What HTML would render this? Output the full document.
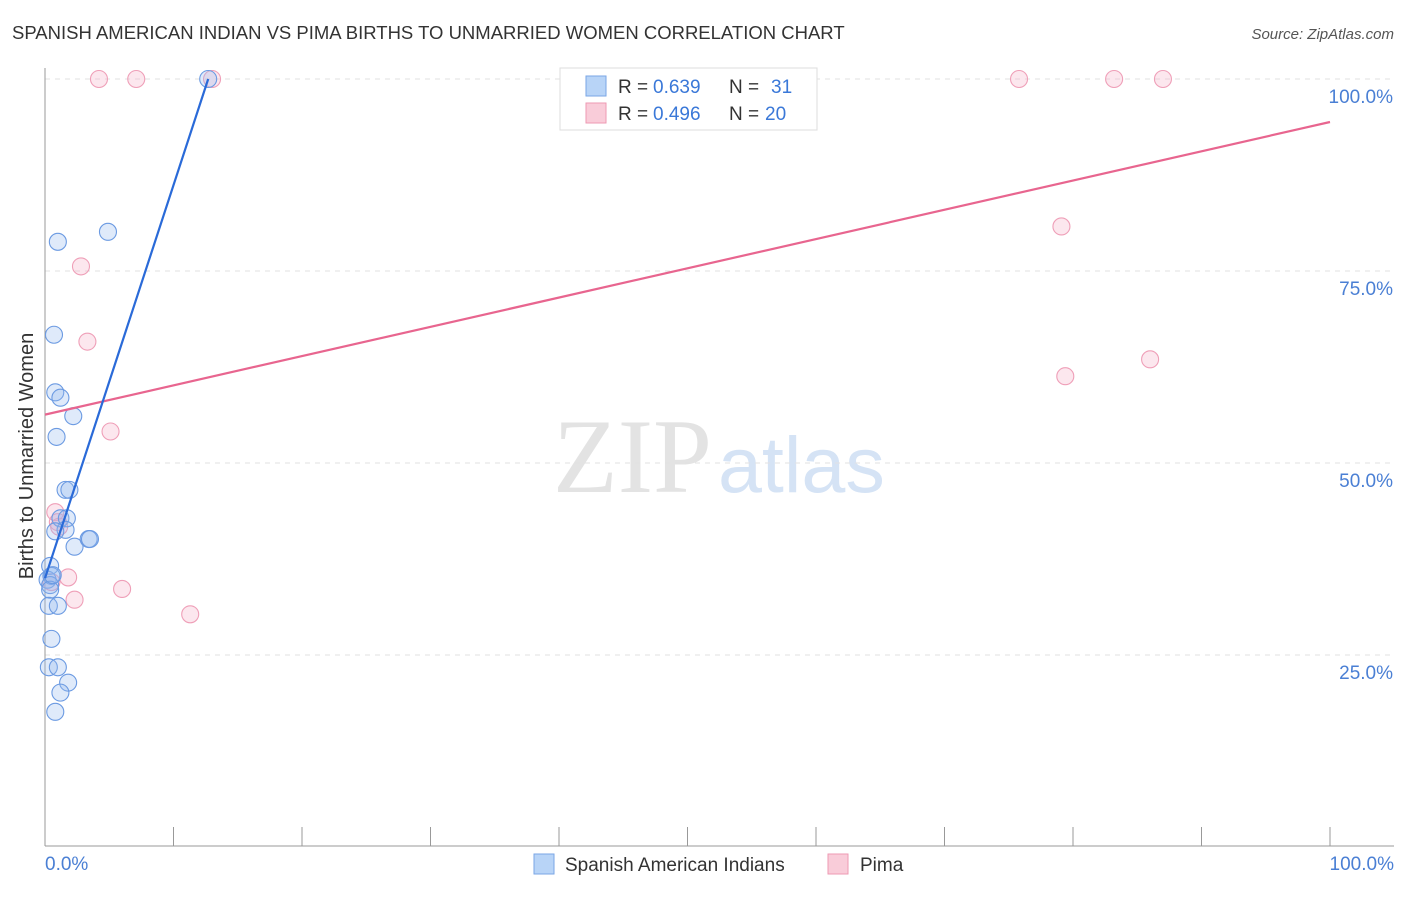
<!DOCTYPE html>
<html><head><meta charset="utf-8"><style>
body{margin:0;background:#fff;font-family:"Liberation Sans",sans-serif;}
</style></head><body>
<svg width="1406" height="892" xmlns="http://www.w3.org/2000/svg">
<text x="12" y="39" font-size="18.5" fill="#333">SPANISH AMERICAN INDIAN VS PIMA BIRTHS TO UNMARRIED WOMEN CORRELATION CHART</text>
<text x="1394" y="39" font-size="15" fill="#555" font-style="italic" text-anchor="end">Source: ZipAtlas.com</text>
<text x="712" y="492" font-size="106" fill="#e3e3e3" font-family="Liberation Serif,serif" text-anchor="end">ZIP</text>
<text x="718" y="492" font-size="79" fill="#d5e3f5">atlas</text>
<g id="grid"></g>
<line x1="45" y1="68" x2="45" y2="846" stroke="#999"/>
<line x1="45" y1="846" x2="1394" y2="846" stroke="#999"/>
<text x="33" y="456" font-size="20" fill="#333" text-anchor="middle" transform="rotate(-90 33 456)">Births to Unmarried Women</text>
<text x="45" y="870" font-size="19" fill="#4a7fd4">0.0%</text>
<text x="1394" y="870" font-size="19" fill="#4a7fd4" text-anchor="end">100.0%</text>
<g id="marks"></g>
<g>
<rect x="560" y="68" width="257" height="62" fill="#fff" stroke="#ddd"/>
<rect x="586" y="76" width="20" height="20" fill="#b8d4f7" stroke="#7aa6e6"/>
<rect x="586" y="103" width="20" height="20" fill="#f9ccd9" stroke="#ee9ab3"/>
<text x="618" y="93" font-size="19" fill="#333">R =</text>
<text x="653" y="93" font-size="19" fill="#3a78d8">0.639</text>
<text x="729" y="93" font-size="19" fill="#333">N =</text>
<text x="771" y="93" font-size="19" fill="#3a78d8">31</text>
<text x="618" y="120" font-size="19" fill="#333">R =</text>
<text x="653" y="120" font-size="19" fill="#3a78d8">0.496</text>
<text x="729" y="120" font-size="19" fill="#333">N =</text>
<text x="765" y="120" font-size="19" fill="#3a78d8">20</text>
</g>
<g>
<rect x="534" y="854" width="20" height="20" fill="#b8d4f7" stroke="#7aa6e6"/>
<text x="565" y="871" font-size="19" fill="#333">Spanish American Indians</text>
<rect x="828" y="854" width="20" height="20" fill="#f9ccd9" stroke="#ee9ab3"/>
<text x="860" y="871" font-size="19" fill="#333">Pima</text>
</g>
</svg>
<script>
const yTicks=[25,50,75,100];
const yTickLabels=["25.0%","50.0%","75.0%","100.0%"];
const blueX=[12.7,4.9,1.0,0.7,0.8,1.2,2.2,0.9,1.6,1.9,1.2,1.7,1.6,0.8,2.3,3.4,3.5,0.4,0.2,0.5,0.4,0.4,0.3,1.0,0.5,0.3,1.0,1.8,1.2,0.8,0.6];
const blueY=[100,80.1,78.8,66.7,59.2,58.5,56.1,53.4,46.5,46.5,42.8,42.8,41.3,41.1,39.1,40.1,40.1,36.6,34.8,35.3,34.1,33.5,31.4,31.4,27.1,23.4,23.4,21.4,20.1,17.6,35.4];
const pinkX=[4.2,7.1,13.0,75.8,83.2,87.0,79.1,2.8,3.3,79.4,86.0,5.1,0.8,1.0,1.8,2.3,6.0,11.3,0.5,1.1];
const pinkY=[100,100,100,100,100,100,80.8,75.6,65.8,61.3,63.5,54.1,43.6,42.3,35.1,32.2,33.6,30.3,34.5,41.7];
const blueTrend=[[0,35.0],[12.7,100]];
const pinkTrend=[[0,56.3],[100,94.4]];
const X=v=>45+v*12.85, Y=v=>847-v*7.68;
const ns="http://www.w3.org/2000/svg";
const grid=document.getElementById('grid'), marks=document.getElementById('marks');
yTicks.forEach((t,i)=>{
 const l=document.createElementNS(ns,'line');
 l.setAttribute('x1',45);l.setAttribute('x2',1394);l.setAttribute('y1',Y(t));l.setAttribute('y2',Y(t));
 l.setAttribute('stroke','#e2e2e2');l.setAttribute('stroke-dasharray','5,5');
 
 
 grid.appendChild(l);
 const tx=document.createElementNS(ns,'text');
 tx.setAttribute('x',1393);tx.setAttribute('y',Y(t)+24);tx.setAttribute('text-anchor','end');
 tx.setAttribute('font-size','19');tx.setAttribute('fill','#4a7fd4');tx.textContent=yTickLabels[i];
 
 
 grid.appendChild(tx);
});
for(let i=1;i<=10;i++){
 const l=document.createElementNS(ns,'line');
 const x=X(i*10);
 l.setAttribute('x1',x);l.setAttribute('x2',x);l.setAttribute('y1',827);l.setAttribute('y2',846);l.setAttribute('stroke','#999');
 
 
 grid.appendChild(l);
}
function pts(xs,ys,fill,stroke,name){
 xs.forEach((v,i)=>{
  const c=document.createElementNS(ns,'circle');
  c.setAttribute('cx',X(v));c.setAttribute('cy',Y(ys[i]));c.setAttribute('r',8.5);
  c.setAttribute('fill',fill);c.setAttribute('stroke',stroke);c.setAttribute('stroke-width','1.1');
  
  
  marks.appendChild(c);
 });
}
pts(pinkX,pinkY,'rgba(244,170,195,0.28)','#ef9fb8','pima-point');
pts(blueX,blueY,'rgba(150,185,240,0.3)','#6b9ae2','spanish-american-indian-point');
function trend(t,color,name){
 const l=document.createElementNS(ns,'line');
 l.setAttribute('x1',X(t[0][0]));l.setAttribute('y1',Y(t[0][1]));l.setAttribute('x2',X(t[1][0]));l.setAttribute('y2',Y(t[1][1]));
 l.setAttribute('stroke',color);l.setAttribute('stroke-width','2.2');
 
 
 marks.appendChild(l);
}
trend(pinkTrend,'#e8658f','pima-trend-line');
trend(blueTrend,'#2a6ad8','spanish-american-indian-trend-line');
</script>
</body></html>
